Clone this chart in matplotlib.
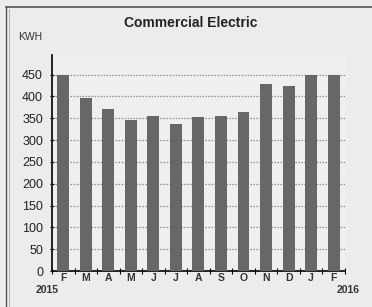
import matplotlib
matplotlib.use("Agg")
import matplotlib.pyplot as plt
from matplotlib.lines import Line2D
import numpy as np

plt.rcParams['font.family'] = ['Liberation Sans', 'DejaVu Sans']

months = ["F", "M", "A", "M", "J", "J", "A", "S", "O", "N", "D", "J", "F"]
kwh = [450, 397, 372, 345, 355, 337, 352, 355, 365, 428, 425, 448, 448]
yticks = [0, 50, 100, 150, 200, 250, 300, 350, 400, 450]
title = "Commercial Electric"
ylabel = "KWH"
start_year = "2015"
end_year = "2016"

fig = plt.figure(figsize=(3.72, 3.07), dpi=100, facecolor="#ececec")
ax = fig.add_axes([0.140, 0.117, 0.787, 0.704])
ax.set_facecolor("#efefef")

x = np.arange(len(months))
ax.bar(x, kwh, width=0.53, color="#676767", zorder=3)

ax.set_xlim(-0.45, len(months) - 0.55)
ax.set_ylim(0, 495)
ax.set_yticks(yticks)
ax.set_yticklabels([str(v) for v in yticks], fontsize=9, color="#222222")
for v in yticks[1:]:
    ax.axhline(v, color="#8f8f8f", linewidth=0.9, linestyle=(0, (1.2, 1.2)), zorder=1)

ax.set_xticks(x)
ax.set_xticklabels(months, fontsize=7.5, fontweight="bold", color="#333333")
ax.set_xticks(np.arange(len(months) + 1) - 0.5, minor=True)
ax.tick_params(axis="x", which="major", length=0, pad=1.5)
ax.tick_params(axis="x", which="minor", length=5, direction="inout", width=0.8)
ax.tick_params(axis="y", length=3, direction="inout", width=0.8, pad=5)

for s in ["top", "right"]:
    ax.spines[s].set_visible(False)
ax.spines["left"].set_linewidth(1.2)
ax.spines["bottom"].set_linewidth(1.2)

fig.text(0.513, 0.925, title, ha="center", va="center", fontsize=10, fontweight="bold", color="#222222")
fig.text(0.048, 0.880, ylabel, ha="left", va="center", fontsize=7.5, color="#333333")
fig.text(0.095, 0.056, start_year, ha="left", va="center", fontsize=7.5, fontweight="bold", color="#333333")
fig.text(0.968, 0.056, end_year, ha="right", va="center", fontsize=7.5, fontweight="bold", color="#333333")

# frame lines
fig.add_artist(Line2D([0.016, 1.0], [0.977, 0.977], color="#555555", linewidth=1.2))
fig.add_artist(Line2D([0.016, 0.016], [0.0, 0.977], color="#555555", linewidth=1.0))
fig.add_artist(Line2D([0.024, 0.024], [0.0, 0.97], color="#aaaaaa", linewidth=0.6))

fig.savefig("out.png", dpi=100, facecolor=fig.get_facecolor())
